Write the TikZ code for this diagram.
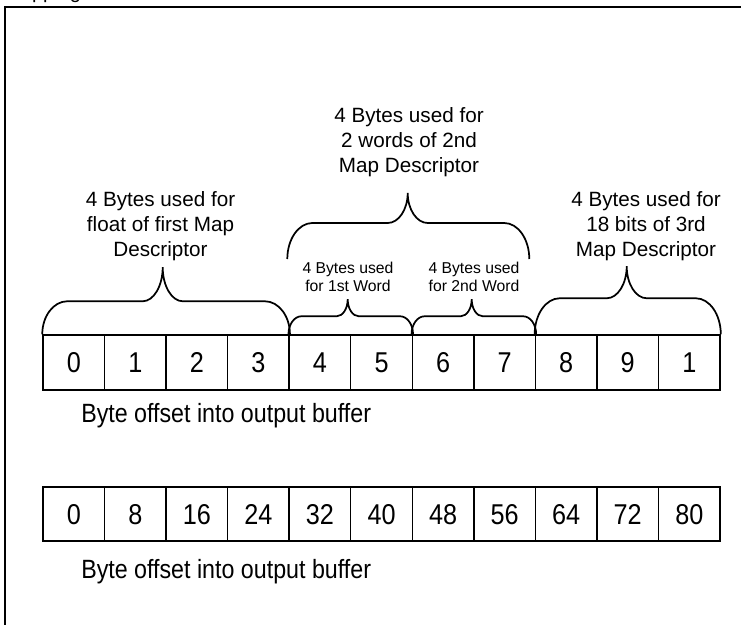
\documentclass[tikz,border=0pt]{standalone}
\usepackage{fontspec}
\setmainfont{Liberation Sans}
\newfontfamily\narrowsans[FakeStretch=0.88]{Liberation Sans}
\usetikzlibrary{calc}
\tikzset{
  cellbox/.style={draw, line width=1.1pt, minimum width=46.16pt, minimum height=41.25pt, inner sep=0pt, text height=15.5pt, text depth=0pt, font=\narrowsans\fontsize{21.5}{24}\selectfont},
  bigl/.style={align=center, inner sep=0pt, font=\fontsize{15.5}{18.75}\selectfont},
  smalll/.style={align=center, inner sep=0pt, font=\fontsize{11.8}{13.5}\selectfont},
  capt/.style={anchor=west, inner sep=0pt, font=\narrowsans\fontsize{19.8}{22}\selectfont},
  bracestyle/.style={draw, line width=1.3pt},
  frame/.style={draw, line width=1.4pt}
}
% #1 left end, #2 right end, #3 tip x, #4 rise, #5 tip height, #6 corner dx, #7 tip dx  (all in px)
\newcommand{\curlybrace}[7]{%
  \path[bracestyle] let \p1=(#1), \p2=(#2), \p3=(#3,0) in
    (\p1) .. controls (\x1, \y1+0.55*#4*0.75pt) and (\x1+0.45*#6*0.75pt, \y1+#4*0.75pt) .. (\x1+#6*0.75pt, \y1+#4*0.75pt)
    -- (\x3-#7*0.75pt, \y1+#4*0.75pt)
    .. controls (\x3-0.45*#7*0.75pt, \y1+#4*0.75pt) and (\x3, \y1+#4*0.75pt+0.45*#5*0.75pt-0.45*#4*0.75pt) .. (\x3, \y1+#5*0.75pt)
    .. controls (\x3, \y1+#4*0.75pt+0.45*#5*0.75pt-0.45*#4*0.75pt) and (\x3+0.45*#7*0.75pt, \y1+#4*0.75pt) .. (\x3+#7*0.75pt, \y1+#4*0.75pt)
    -- (\x2-#6*0.75pt, \y2+#4*0.75pt)
    .. controls (\x2-0.45*#6*0.75pt, \y2+#4*0.75pt) and (\x2, \y2+0.55*#4*0.75pt) .. (\p2);
}
\begin{document}
\begin{tikzpicture}[x=0.75pt, y=-0.75pt]
\useasboundingbox (0,0) rectangle (741,624);
% frame (runs past the right and bottom edges)
\draw[frame] (5,7) rectangle (780,660);
% cut-off title
\node[anchor=base west, inner sep=0pt, font=\fontsize{15}{18}\selectfont] (title) at (4,-1) {Mapping};
% row 1
\foreach \t [count=\i from 0] in {0,1,2,3,4,5,6,7,8,9,1} {
  \node[cellbox] (c\i) at ({43+61.55*\i+30.775},362.5) {\t};
}
% row 2
\foreach \t [count=\i from 0] in {0,8,16,24,32,40,48,56,64,72,80} {
  \node[cellbox, minimum height=40.5pt] (d\i) at ({43+61.55*\i+30.775},514) {\t};
}
\node[capt] (t1) at (81,416) {Byte offset into output buffer};
\node[capt] (t2) at (81,572) {Byte offset into output buffer};
% labels
\node[bigl] (l1) at (160.5,225.7) {4 Bytes used for\\float of first Map\\Descriptor};
\node[bigl] (l2) at (409,141.7) {4 Bytes used for\\2 words of 2nd\\Map Descriptor};
\node[bigl] (l3) at (646,225.7) {4 Bytes used for\\18 bits of 3rd\\Map Descriptor};
\node[smalll] (s1) at (348,277) {4 Bytes used\\for 1st Word};
\node[smalll] (s2) at (474,277) {4 Bytes used\\for 2nd Word};
% brace end points for the upper brace
\coordinate (b2l) at (287.3,259);
\coordinate (b2r) at (529.3,259);
% braces
\curlybrace{c0.north west}{c3.north east}{162.7}{33}{67}{25}{20}
\curlybrace{c4.north west}{c5.north east}{347.7}{18}{35}{13}{11}
\curlybrace{c6.north west}{c7.north east}{471.7}{18}{35}{13}{11}
\curlybrace{c8.north west}{c10.north east}{626.7}{36}{68}{25}{20}
\curlybrace{b2l}{b2r}{407.7}{36}{66}{25}{20}
\end{tikzpicture}
\end{document}
